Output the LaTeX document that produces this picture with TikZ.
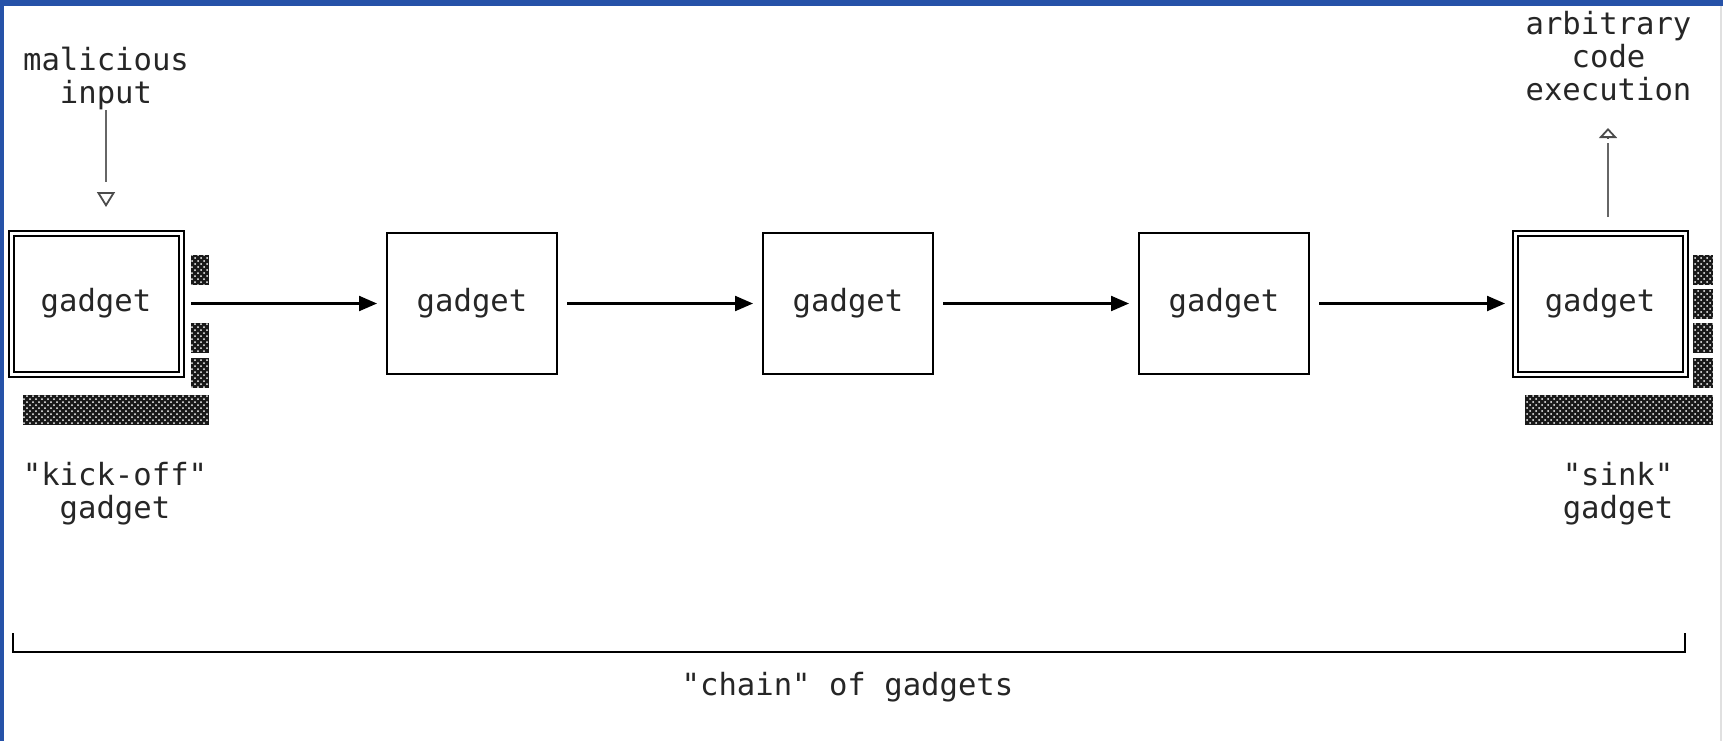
\documentclass[tikz,border=0pt]{standalone}
\usepackage{fontspec}
\setmonofont{DejaVu Sans Mono}
\usetikzlibrary{arrows.meta,patterns}
\definecolor{frameblue}{RGB}{38,82,168}
\tikzset{
	gadget/.style={draw, line width=1.3pt, minimum width=85pt, minimum height=70.5pt, inner sep=0pt, outer sep=0pt, font=\ttfamily\fontsize{15.3}{16.5}\selectfont, text=black!85},
	endgadget/.style={gadget, double, line width=1pt, double distance=1.5pt},
	lbl/.style={font=\ttfamily\fontsize{15.3}{16.5}\selectfont, align=center, inner sep=0pt, text=black!85},
	flow/.style={-{Triangle[length=9pt,width=7.5pt]}, line width=1.1pt, shorten <=5pt, shorten >=5pt},
	guide/.style={line width=0.9pt, black!60},
	hollow/.style={-{Triangle[open,length=#1,width=9pt]}, line width=0.9pt, black!70},
	hollow/.default=7pt,
	shadow/.style={fill=black!90, postaction={pattern=crosshatch dots, pattern color=white}}
}

\begin{document}
\begin{tikzpicture}[x=0.5pt, y=-0.5pt]
			%%%%% START %%%%%
			\useasboundingbox (0,0) rectangle (1723,741);
			
			\fill[frameblue] (0,0) rectangle (1723,6);
			\fill[frameblue] (0,0) rectangle (4,741);
			\draw[line width=1pt, black!12] (1721,6) -- (1721,741);
			
			% the chain
			\node[endgadget] (kick) at (96,303.5) {gadget};
			\node[gadget] (g2) at (472,303.5) {gadget};
			\node[gadget] (g3) at (848,303.5) {gadget};
			\node[gadget] (g4) at (1224,303.5) {gadget};
			\node[endgadget] (sink) at (1600,303.5) {gadget};
			
			\draw[flow] (kick) -- (g2);
			\draw[flow] (g2) -- (g3);
			\draw[flow] (g3) -- (g4);
			\draw[flow] (g4) -- (sink);
			
			% shadows
			\fill[shadow] (191,255) rectangle (209,285);
			\fill[shadow] (191,323) rectangle (209,353);
			\fill[shadow] (191,358) rectangle (209,388);
			\fill[shadow] (23,395) rectangle (209,425);
			
			\fill[shadow] (1693,255) rectangle (1713,285);
			\fill[shadow] (1693,289) rectangle (1713,319);
			\fill[shadow] (1693,323) rectangle (1713,353);
			\fill[shadow] (1693,358) rectangle (1713,388);
			\fill[shadow] (1525,395) rectangle (1713,425);
			
			% in and out
			\node[lbl, anchor=north] (inp) at (106,46.7) {malicious\\input};
			\coordinate (inpend) at (106,182);
			\coordinate (inptip) at (106,192);
			\coordinate (inphead) at (106,207);
			\draw[guide] (inp.south) -- (inpend);
			\draw[hollow=7.5pt] (inptip) -- (inphead);
			
			\node[lbl, anchor=north] (exec) at (1608.5,10.7) {arbitrary\\code\\execution};
			\coordinate (exend) at (1608,143);
			\coordinate (extip) at (1608,138);
			\coordinate (exhead) at (1608,128);
			\draw[guide, shorten <=8pt] (sink.north -| exend) -- (exend);
			\draw[hollow=5pt] (extip) -- (exhead);
			
			\node[lbl, anchor=north] (kicklbl) at (115,461.7) {"kick-off"\\gadget};
			\node[lbl, anchor=north] (sinklbl) at (1618,461.7) {"sink"\\gadget};
			
			% bracket
			\draw[line width=1.4pt] (13,633) -- (13,652) -- (1685,652) -- (1685,633);
			\node[lbl, anchor=base] (chain) at (847.5,695) {"chain" of gadgets};
			%%%%% END %%%%%
\end{tikzpicture}
\end{document}
